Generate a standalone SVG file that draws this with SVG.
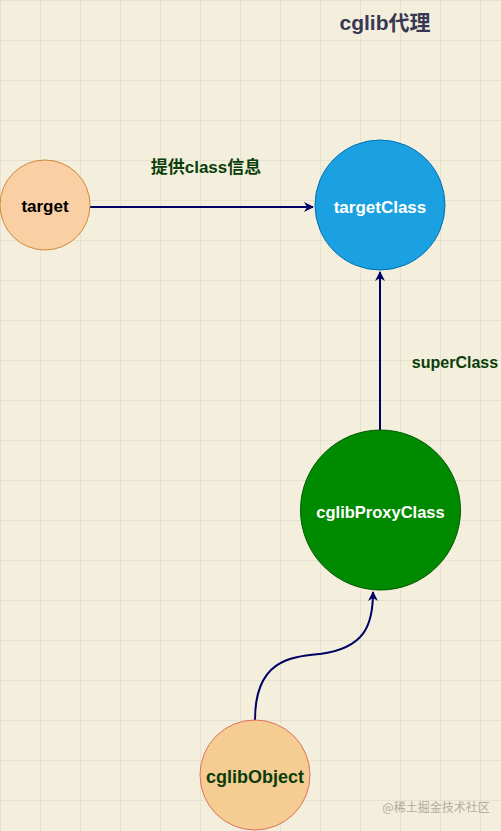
<svg xmlns="http://www.w3.org/2000/svg" width="501" height="831" viewBox="0 0 501 831">
<defs>
<pattern id="grid" width="40" height="40" patternUnits="userSpaceOnUse">
<path d="M40 0 L0 0 0 40" fill="none" stroke="#dcd6c2" stroke-width="1"/>
</pattern>
<marker id="arr" viewBox="0 0 10 10" refX="9" refY="5" markerWidth="10" markerHeight="10" markerUnits="userSpaceOnUse" orient="auto">
<path d="M0 0 L10 5 L0 10 L3 5 Z" fill="#000066"/>
</marker>
<style>
.lbl{font-family:"Liberation Sans",Arial,"Noto Sans CJK SC",sans-serif;font-weight:bold;text-anchor:middle;}
.edge{fill:none;stroke:#000066;stroke-width:2;}
</style>
</defs>
<rect width="501" height="831" fill="#f3efdc"/>
<rect width="501" height="831" fill="url(#grid)"/>
<text class="lbl" x="385" y="30" font-size="21" fill="#383856">cglib代理</text>
<g id="connectors">
<path class="edge" d="M90 207 L313 207" marker-end="url(#arr)"/>
<path class="edge" d="M380 430 L380 272" marker-end="url(#arr)"/>
<path class="edge" d="M255 720 C255 660 290 657 320 654 C365 648 373 625 373 592" marker-end="url(#arr)"/>
</g>
<g id="label-info"><text class="lbl" x="206" y="173" font-size="17" fill="#0a3d0a">提供class信息</text></g>
<g id="label-super"><text class="lbl" x="455" y="368" font-size="16" fill="#0a3d0a">superClass</text></g>
<g id="target">
<circle cx="45" cy="205" r="45" fill="#f9cfa3" stroke="#d08a3a" stroke-width="1"/>
<text class="lbl" x="45" y="212" font-size="17" fill="#000000">target</text>
</g>
<g id="targetClass">
<circle cx="380" cy="205" r="65" fill="#1ba1e2" stroke="#006eaf" stroke-width="1"/>
<text class="lbl" x="380" y="213" font-size="17" fill="#ffffff">targetClass</text>
</g>
<g id="cglibProxyClass">
<circle cx="380.5" cy="510" r="80" fill="#008a00" stroke="#005700" stroke-width="1"/>
<text class="lbl" x="380.5" y="518" font-size="16.5" fill="#ffffff">cglibProxyClass</text>
</g>
<g id="cglibObject">
<circle cx="255" cy="775" r="55" fill="#f5cd92" stroke="#e07060" stroke-width="1"/>
<text class="lbl" x="255" y="783" font-size="18" fill="#0a3d0a">cglibObject</text>
</g>
<text x="436" y="812" font-family="'Noto Sans CJK SC',sans-serif" font-size="12" fill="#b0aca0" text-anchor="middle">@稀土掘金技术社区</text>
</svg>
